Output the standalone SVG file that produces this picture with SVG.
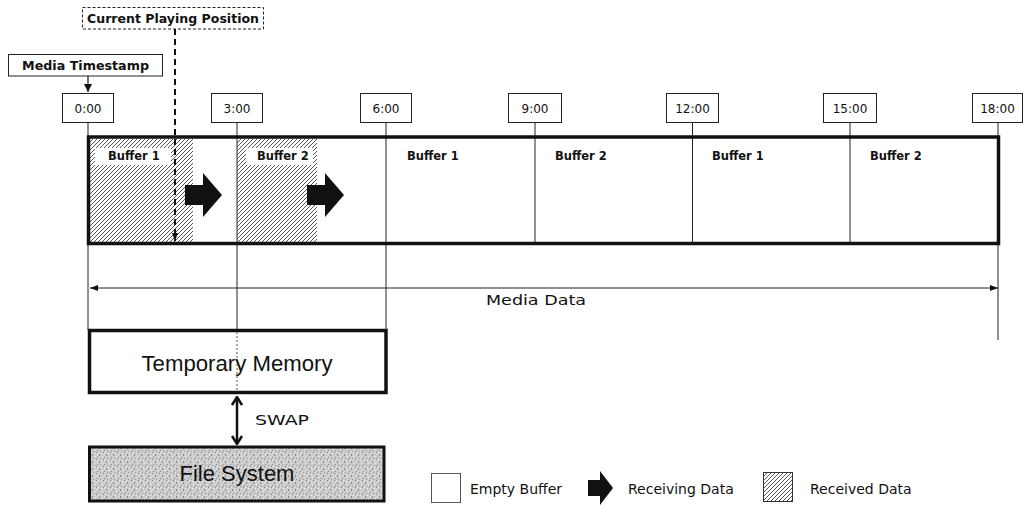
<svg xmlns="http://www.w3.org/2000/svg" width="1025" height="506" viewBox="0 0 1025 506">
  <defs>
    <style>
      .tbox{fill:#fff;stroke:#222;stroke-width:1}
      .ts{font-family:"DejaVu Sans",sans-serif;font-size:12px;fill:#111;text-anchor:middle}
      .blabel{font-family:"DejaVu Sans",sans-serif;font-weight:bold;font-size:11.5px;fill:#111}
      .thin{stroke:#222;stroke-width:1;fill:none}
      .heavy{fill:#fff;stroke:#111;stroke-width:3.5}
      .big{font-family:"Liberation Sans",Arial,sans-serif;font-size:22px;fill:#111;text-anchor:middle}
      .leg{font-family:"DejaVu Sans",sans-serif;font-size:14px;fill:#111}
      .tag{font-family:"DejaVu Sans",sans-serif;font-weight:bold;font-size:12.5px;fill:#111}
      .solid{fill:#111}
    </style>
    <!-- diagonal hatching for received data -->
    <pattern id="hatch" patternUnits="userSpaceOnUse" width="4" height="4">
      <rect width="4" height="4" fill="#fff"/>
      <path d="M-1,1 L1,-1 M0,4 L4,0 M3,5 L5,3" stroke="#444" stroke-width="0.9"/>
    </pattern>
    <!-- stippled grey for the file system block -->
    <pattern id="speckle" patternUnits="userSpaceOnUse" width="7" height="7">
      <rect width="7" height="7" fill="#cbcbcb"/>
      <rect x="1" y="0" width="1" height="1" fill="#8a8a8a"/>
      <rect x="4" y="1" width="1" height="1" fill="#efefef"/>
      <rect x="6" y="2" width="1" height="1" fill="#8a8a8a"/>
      <rect x="2" y="3" width="1" height="1" fill="#9a9a9a"/>
      <rect x="0" y="4" width="1" height="1" fill="#efefef"/>
      <rect x="5" y="4" width="1" height="1" fill="#7a7a7a"/>
      <rect x="3" y="5" width="1" height="1" fill="#efefef"/>
      <rect x="1" y="6" width="1" height="1" fill="#8a8a8a"/>
      <rect x="6" y="6" width="1" height="1" fill="#e8e8e8"/>
    </pattern>
    <marker id="tri" viewBox="0 0 8 6" refX="8" refY="3" markerWidth="8" markerHeight="6" markerUnits="userSpaceOnUse" orient="auto-start-reverse">
      <path d="M0,0 L8,3 L0,6 Z" fill="#111"/>
    </marker>
    <marker id="tri2" viewBox="0 0 8 8" refX="8" refY="4" markerWidth="8" markerHeight="8" markerUnits="userSpaceOnUse" orient="auto">
      <path d="M0,0 L8,4 L0,8 Z" fill="#111"/>
    </marker>
    <marker id="chev" viewBox="0 0 10 12" refX="9" refY="6" markerWidth="10" markerHeight="12" markerUnits="userSpaceOnUse" orient="auto-start-reverse">
      <path d="M1,1 L9,6 L1,11" fill="none" stroke="#111" stroke-width="2.5"/>
    </marker>
    <path id="recvArrow" d="M0,-10 H18 V-22 L37,0 L18,22 V10 H0 Z"/>
  </defs>

  <!-- callout labels -->
  <g id="playing-position">
    <rect x="82.5" y="7.5" width="181" height="21.5" fill="none" stroke="#222" stroke-width="1" stroke-dasharray="3 2"/>
    <text class="tag" x="87" y="23" textLength="172" lengthAdjust="spacingAndGlyphs">Current Playing Position</text>
  </g>
  <g id="media-timestamp">
    <rect class="tbox" x="8.5" y="54.5" width="154" height="21.5"/>
    <text class="tag" x="85.5" y="70" text-anchor="middle" textLength="127" lengthAdjust="spacingAndGlyphs">Media Timestamp</text>
  </g>

  <!-- timestamps -->
  <g id="timestamps">
    <rect class="tbox" x="62.5" y="93.5" width="51" height="29"/><text class="ts" x="88" y="113">0:00</text>
    <rect class="tbox" x="211.5" y="93.5" width="51" height="29"/><text class="ts" x="237" y="113">3:00</text>
    <rect class="tbox" x="360.5" y="93.5" width="51" height="29"/><text class="ts" x="386" y="113">6:00</text>
    <rect class="tbox" x="508.5" y="93.5" width="53" height="29"/><text class="ts" x="535" y="113">9:00</text>
    <rect class="tbox" x="666.5" y="93.5" width="52" height="29"/><text class="ts" x="692.5" y="113">12:00</text>
    <rect class="tbox" x="823.5" y="93.5" width="53" height="29"/><text class="ts" x="850" y="113">15:00</text>
    <rect class="tbox" x="972.5" y="93.5" width="50" height="29"/><text class="ts" x="997.5" y="113">18:00</text>
  </g>

  <!-- buffer strip -->
  <g id="buffers">
    <rect x="89" y="139" width="104" height="103" fill="url(#hatch)"/>
    <rect x="237" y="139" width="80" height="103" fill="url(#hatch)"/>
    <rect x="95" y="148" width="76" height="17" fill="#fff"/>
    <rect x="246" y="148" width="67" height="17" fill="#fff"/>
    <text class="blabel" x="108" y="160">Buffer 1</text>
    <text class="blabel" x="257" y="160">Buffer 2</text>
    <text class="blabel" x="407" y="160">Buffer 1</text>
    <text class="blabel" x="555" y="160">Buffer 2</text>
    <text class="blabel" x="712" y="160">Buffer 1</text>
    <text class="blabel" x="870" y="160">Buffer 2</text>
    <use href="#recvArrow" x="185" y="195" class="solid"/>
    <use href="#recvArrow" x="307" y="195" class="solid"/>
  </g>

  <!-- memory blocks -->
  <g id="temporary-memory">
    <rect class="heavy" x="89.5" y="330.5" width="296.5" height="62"/>
  </g>
  <g id="file-system">
    <rect x="89.5" y="447" width="294.5" height="54" fill="url(#speckle)" stroke="#111" stroke-width="3"/>
    <text class="big" x="237" y="481">File System</text>
  </g>

  <!-- connectors and time grid -->
  <g id="connectors">
    <path class="thin" d="M88,123 V330 M237,123 V330 M386,123 V330 M535,123 V243 M692.5,123 V243 M850,123 V243 M998,123 V340"/>
    <path d="M237,332 V392" stroke="#555" stroke-width="1" stroke-dasharray="2 2" fill="none"/>
    <rect x="88.5" y="137" width="910" height="106.5" fill="none" stroke="#111" stroke-width="3.5"/>
    <line x1="88" y1="76" x2="88" y2="92" stroke="#111" stroke-width="1.2" marker-end="url(#tri2)"/>
    <line x1="175" y1="29" x2="175" y2="241" stroke="#111" stroke-width="2" stroke-dasharray="6 4" marker-end="url(#tri)"/>
    <line x1="90" y1="288" x2="998" y2="288" stroke="#222" stroke-width="1" marker-start="url(#tri)" marker-end="url(#tri)"/>
    <line x1="237" y1="397" x2="237" y2="444" stroke="#111" stroke-width="2.5" marker-start="url(#chev)" marker-end="url(#chev)"/>
  </g>

  <g id="labels">
    <text class="big" x="237" y="371" textLength="191" lengthAdjust="spacingAndGlyphs">Temporary Memory</text>
    <text class="leg" x="536" y="305" font-size="14.5" text-anchor="middle" textLength="100" lengthAdjust="spacingAndGlyphs">Media Data</text>
    <text class="leg" x="255" y="425" textLength="54" lengthAdjust="spacingAndGlyphs">SWAP</text>
  </g>

  <!-- legend -->
  <g id="legend">
    <rect x="431.5" y="473.5" width="29" height="29" fill="#fff" stroke="#555" stroke-width="1"/>
    <text class="leg" x="470" y="494">Empty Buffer</text>
    <path class="solid" d="M588,480 H600 V471 L613,488 L600,505 V496 H588 Z"/>
    <text class="leg" x="628" y="494">Receiving Data</text>
    <rect x="763.5" y="472.5" width="29" height="29" fill="url(#hatch)" stroke="#333" stroke-width="1"/>
    <text class="leg" x="810" y="494">Received Data</text>
  </g>
</svg>
